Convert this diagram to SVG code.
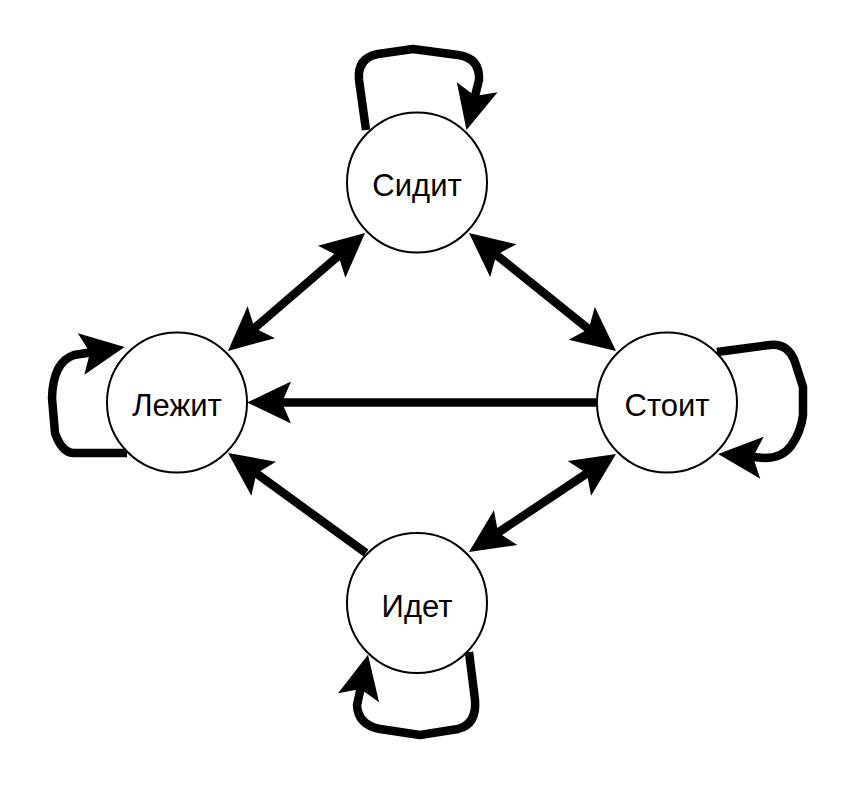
<svg xmlns="http://www.w3.org/2000/svg" width="860" height="804" viewBox="0 0 860 804">
<defs>
<marker id="ah" markerUnits="userSpaceOnUse" orient="auto-start-reverse" refX="0" refY="0" markerWidth="60" markerHeight="60" overflow="visible">
<path d="M35,0 L-9,-21 L0,0 L-9,21 Z" fill="#000"/>
</marker>
<style>
.e{fill:none;stroke:#000;stroke-width:8.5;stroke-linejoin:round}
.n circle{fill:#fff;stroke:#000;stroke-width:2}
.n text{font-family:"Liberation Sans",Arial,Helvetica,sans-serif;font-size:31px;text-anchor:middle;fill:#000}
</style>
</defs>
<rect width="860" height="804" fill="#fff"/>
<g id="connectors">
<path class="e" d="M338.5 255.9 L254.5 328.1" marker-start="url(#ah)" marker-end="url(#ah)"/>
<path class="e" d="M496.3 254.9 L588.7 329.1" marker-start="url(#ah)" marker-end="url(#ah)"/>
<path class="e" d="M597 402.5 L282 402.5" marker-end="url(#ah)"/>
<path class="e" d="M366 553 L256.4 473.5" marker-end="url(#ah)"/>
<path class="e" d="M586.9 473.4 L498.1 532.6" marker-start="url(#ah)" marker-end="url(#ah)"/>
<path class="e" d="M366 130 L359 80 Q357 58 378 54 L413 49 L458 55 Q480 58 479 80 L475 96" marker-end="url(#ah)"/>
<path class="e" d="M127 453 L74 453 Q62 453 55 433 L52 398 Q53 362 74 355 L90 352.5" marker-end="url(#ah)"/>
<path class="e" d="M717 352 L770 345 Q788 343 795 362 L803 387 L803 415 Q801 432 791 446 Q782 458 765 458 L753 457" marker-end="url(#ah)"/>
<path class="e" d="M469 652 L475 700 Q477 724 458 729 L420 735 L380 729 Q358 725 357 705 L360.5 689" marker-end="url(#ah)"/>
</g>
<g id="node-sidit" class="n"><circle cx="417" cy="182.5" r="70"/><text x="417" y="196">Сидит</text></g>
<g id="node-lezhit" class="n"><circle cx="177" cy="402.5" r="70"/><text x="177" y="416">Лежит</text></g>
<g id="node-stoit" class="n"><circle cx="667" cy="402.5" r="70"/><text x="667" y="416">Стоит</text></g>
<g id="node-idet" class="n"><circle cx="417" cy="603" r="70"/><text x="417" y="616.5">Идет</text></g>
</svg>
